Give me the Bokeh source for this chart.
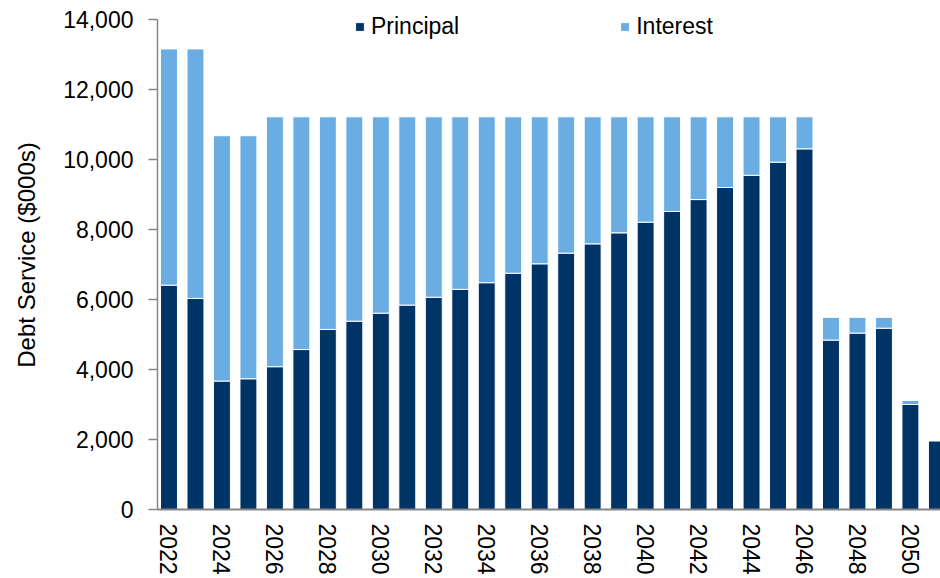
from bokeh.plotting import figure
from bokeh.models import Range1d, FixedTicker, NumeralTickFormatter, Legend, LegendItem, ColumnDataSource
from bokeh.embed import file_html
from bokeh.resources import INLINE

years = list(range(2022, 2052))
principal = [6410, 6030, 3670, 3735, 4080, 4570, 5145, 5380, 5610, 5840,
             6065, 6290, 6480, 6750, 7020, 7325, 7590, 7905, 8210, 8515,
             8855, 9200, 9550, 9925, 10305, 4840, 5040, 5180, 3000, 1965]
interest = [6750, 7130, 7010, 6945, 7140, 6650, 6075, 5840, 5610, 5380,
            5155, 4930, 4740, 4470, 4200, 3895, 3630, 3315, 3010, 2705,
            2365, 2020, 1670, 1295, 915, 650, 450, 310, 115, 0]
series_names = ["Principal", "Interest"]
y_title = "Debt Service ($000s)"
y_ticks = [0, 2000, 4000, 6000, 8000, 10000, 12000, 14000]
x_ticks = list(range(2022, 2051, 2))

DARK = "#003366"
LIGHT = "#6AADE3"
FONT = "Liberation Sans"
FS = "23px"

src = ColumnDataSource(dict(year=years, principal=principal, interest=interest))

p = figure(width=940, height=578, output_backend="svg", toolbar_location=None,
           x_range=Range1d(2021.566, 2051.136), y_range=Range1d(0, 14543),
           min_border_left=157, min_border_right=0, min_border_top=0, min_border_bottom=69)
p.outline_line_color = None
p.xgrid.visible = False
p.ygrid.visible = False

r = p.vbar_stack(["principal", "interest"], x="year", width=0.64, source=src,
                 color=[DARK, LIGHT], line_color="white", line_width=1)

p.yaxis.ticker = FixedTicker(ticks=y_ticks)
p.yaxis.bounds = (0, 14000)
p.yaxis.formatter = NumeralTickFormatter(format="0,0")
p.yaxis.axis_label = y_title
p.yaxis.axis_label_text_font = FONT
p.yaxis.axis_label_text_font_size = "24px"
p.yaxis.axis_label_text_font_style = "normal"
p.yaxis.axis_label_text_color = "#000000"
p.yaxis.axis_label_standoff = 20
p.yaxis.major_label_text_font = FONT
p.yaxis.major_label_text_font_size = FS
p.yaxis.major_label_text_color = "#000000"
p.yaxis.major_label_standoff = 15
p.yaxis.major_tick_out = 9
p.yaxis.major_tick_in = 0
p.yaxis.minor_tick_out = 0
p.yaxis.minor_tick_in = 0
p.yaxis.axis_line_color = "#868686"
p.yaxis.major_tick_line_color = "#868686"
p.yaxis.axis_line_width = 1.5
p.yaxis.major_tick_line_width = 1.5

p.xaxis.ticker = FixedTicker(ticks=x_ticks)
p.xaxis.major_label_orientation = "vertical"
p.xaxis.major_label_text_font = FONT
p.xaxis.major_label_text_font_size = FS
p.xaxis.major_label_text_color = "#000000"
p.xaxis.major_label_standoff = 14
p.xaxis.major_tick_out = 0
p.xaxis.major_tick_in = 0
p.xaxis.minor_tick_out = 0
p.xaxis.minor_tick_in = 0
p.xaxis.axis_line_color = "#868686"
p.xaxis.axis_line_width = 2

legend = Legend(items=[LegendItem(label=series_names[0], renderers=[r[0]]),
                       LegendItem(label=series_names[1], renderers=[r[1]])],
                location=(197, 469), orientation="horizontal",
                glyph_width=11, glyph_height=11, label_height=28, label_standoff=6, spacing=160,
                padding=0, margin=0, border_line_alpha=0, background_fill_alpha=0,
                label_text_font=FONT, label_text_font_size=FS, label_text_color="#000000")
p.add_layout(legend)

open("out.html", "w").write(file_html(p, INLINE))
